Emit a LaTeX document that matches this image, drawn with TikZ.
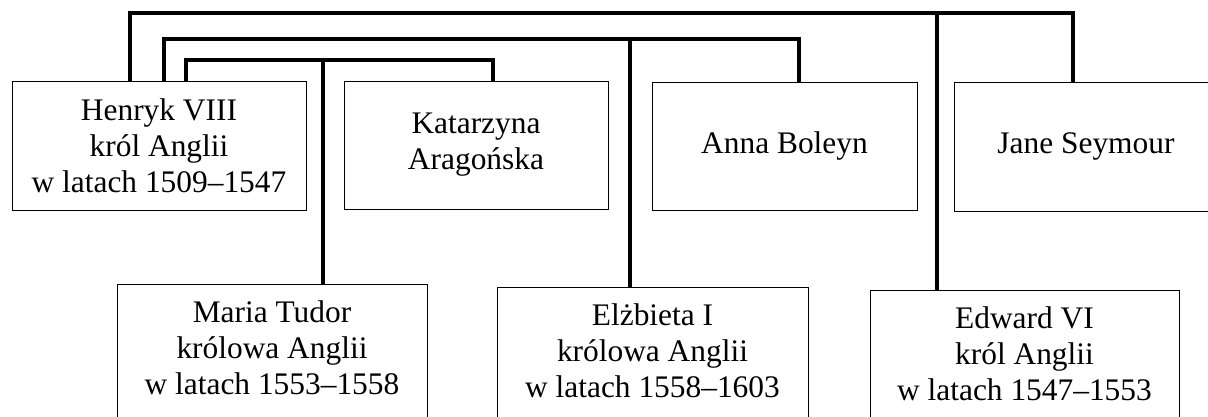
\documentclass[tikz,border=0pt]{standalone}
\usepackage{fontspec}
\setmainfont{Liberation Serif}
\usetikzlibrary{
  positioning,
}
\tikzset{
  person/.style={draw, line width=0.9pt, inner sep=0pt, align=center,
    font=\fontsize{31.4}{36}\selectfont},
  caption/.style={inner sep=0pt, align=center,
    font=\fontsize{31.4}{36}\selectfont},
  rod/.style={line width=4.4pt},
}

\begin{document}
\begin{tikzpicture}[x=1pt,y=1pt]
\path[use as bounding box] (0,0) rectangle (1208,417);
\clip (0,0) rectangle (1208,417);

\node[person, minimum width=294pt, minimum height=129pt] (henryk) at (159,271.5)
  {Henryk VIII\\król Anglii\\w latach 1509–1547};
\node[person, minimum width=264pt, minimum height=128pt] (katarzyna) at (476,272)
  {Katarzyna\\Aragońska};
\node[person, minimum width=265pt, minimum height=128pt] (anna) at (784.5,271)
  {Anna Boleyn};
\node[person, minimum width=264pt, minimum height=129pt] (jane) at (1086,270.5)
  {Jane Seymour};

\node[person, minimum width=310pt, minimum height=150pt, anchor=north] (maria) at (272,133) {};
\node[caption, below=17pt of maria.north] (mariatxt)
  {Maria Tudor\\królowa Anglii\\w latach 1553–1558};
\node[person, minimum width=311pt, minimum height=150pt, anchor=north] (elzbieta) at (652.5,130) {};
\node[caption, below=17pt of elzbieta.north] (elzbietatxt)
  {Elżbieta I\\królowa Anglii\\w latach 1558–1603};
\node[person, minimum width=309pt, minimum height=150pt, anchor=north] (edward) at (1024.5,127) {};
\node[caption, below=17pt of edward.north] (edwardtxt)
  {Edward VI\\król Anglii\\w latach 1547–1553};

\coordinate (wed1) at (130,404);
\coordinate (wed2) at (164,378);
\coordinate (wed3) at (186,357);

\draw[rod] (henryk.north -| wed1) -- (wed1) -| (jane.north -| 1073,0);
\draw[rod] (henryk.north -| wed2) -- (wed2) -| (anna.north -| 799,0);
\draw[rod] (henryk.north -| wed3) -- (wed3) -| (katarzyna.north -| 493,0);

\draw[rod] (323,357) -- (maria.north -| 323,0);
\draw[rod] (630,378) -- (elzbieta.north -| 630,0);
\draw[rod] (937,404) -- (edward.north -| 937,0);
\end{tikzpicture}
\end{document}
